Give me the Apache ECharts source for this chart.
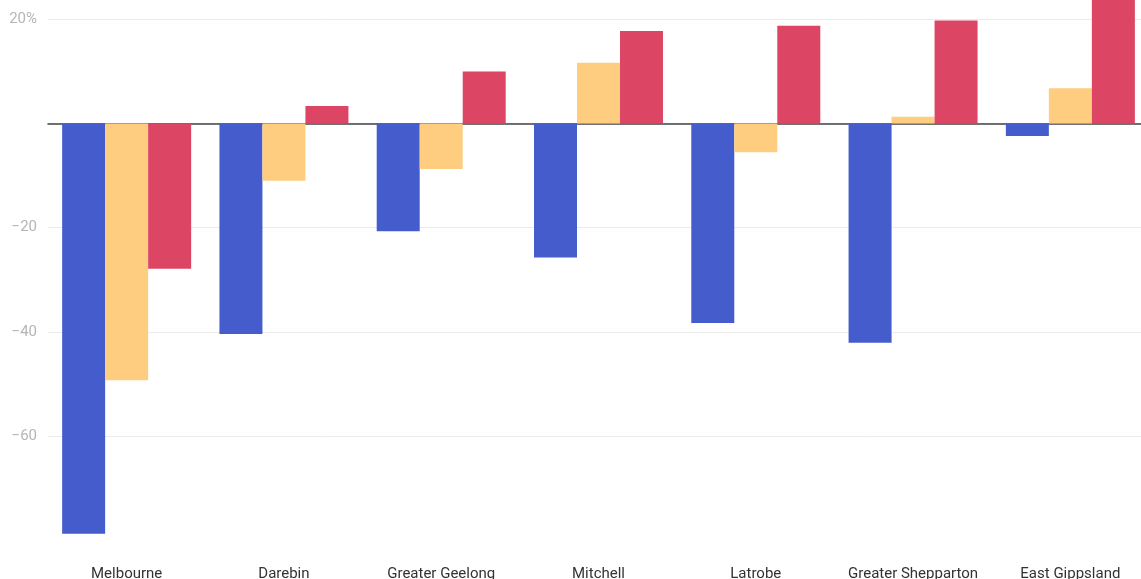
<!DOCTYPE html>
<html>
<head>
<meta charset="utf-8">
<script src="https://cdn.jsdelivr.net/npm/echarts@6/dist/echarts.min.js"></script>
<style>
  html, body { margin: 0; padding: 0; background: #fff; }
  #chart { width: 1141px; height: 579px; }
</style>
</head>
<body>
<div id="chart"></div>
<script>
// 地区
const regions = ['Melbourne', 'Darebin', 'Greater Geelong', 'Mitchell', 'Latrobe', 'Greater Shepparton', 'East Gippsland'];
// 三组数据
const seriesA = [-78.8, -40.4, -20.7, -25.7, -38.3, -42.1, -2.4];
const seriesB = [-49.3, -11.0, -8.7, 11.7, -5.5, 1.3, 6.8];
const seriesC = [-27.9, 3.4, 10.0, 17.8, 18.8, 19.8, 26.0];
const yTicks = [20, -20, -40, -60];

const chart = echarts.init(document.getElementById('chart'));
const option = {
  animation: false,
  textStyle: { fontFamily: 'Roboto' },
  grid: {
    left: 48,
    top: 0,
    right: -8,
    height: 540,
    outerBoundsMode: 'none'
  },
  xAxis: [
    {
      type: 'category',
      data: regions,
      axisLine: { show: false, onZero: false },
      axisTick: { show: false },
      axisLabel: { color: '#333', fontSize: 15, margin: 27, interval: 0 }
    },
    {
      // 零线
      type: 'category',
      data: regions,
      position: 'bottom',
      axisLine: { show: true, onZero: true, lineStyle: { color: '#444', width: 1.5 } },
      axisTick: { show: false },
      axisLabel: { show: false }
    }
  ],
  yAxis: {
    type: 'value',
    min: -80,
    max: 23.75,
    interval: 20,
    axisLine: { show: false },
    axisTick: { show: false },
    axisLabel: {
      color: '#b5b5b5',
      fontSize: 15,
      margin: 11,
      showMaxLabel: false,
      formatter: function (v) {
        if (yTicks.indexOf(v) < 0) return '';
        return v === 20 ? '20%' : '\u2212' + Math.abs(v);
      }
    },
    splitLine: {
      show: true,
      showMinLine: false,
      showMaxLine: false,
      lineStyle: { color: '#ebebeb' }
    }
  },
  series: [
    { type: 'bar', data: seriesA, barWidth: 43, barGap: '0%', itemStyle: { color: '#445ccc' } },
    { type: 'bar', data: seriesB, barWidth: 43, barGap: '0%', itemStyle: { color: '#ffcd80' } },
    { type: 'bar', data: seriesC, barWidth: 43, barGap: '0%', itemStyle: { color: '#dc4563' } }
  ]
};
chart.setOption(option);
</script>
</body>
</html>
